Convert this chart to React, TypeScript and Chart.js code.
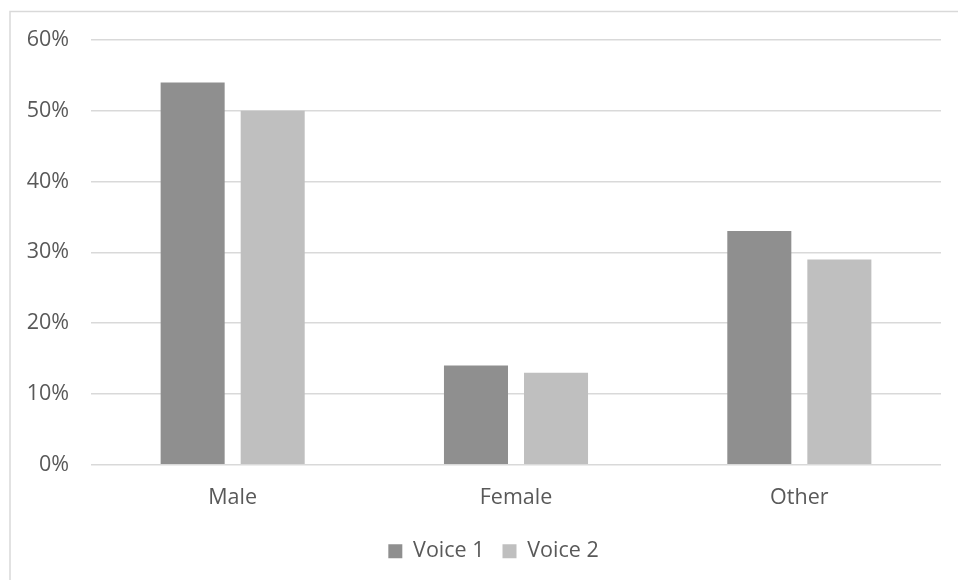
import React, { useEffect, useRef } from "react";
import { Chart, registerables } from "chart.js";

Chart.register(...registerables);

const categories = ["Male", "Female", "Other"];
const voice1 = [54, 14, 33];
const voice2 = [50, 13, 29];
const yTicks = [0, 10, 20, 30, 40, 50, 60];

const FONT = "'Open Sans', 'Liberation Sans', sans-serif";
const TEXT = "#595959";
const FS = 21.5;

const frame = {
  id: "frame",
  beforeDraw(chart: any) {
    const ctx = chart.ctx;
    ctx.save();
    ctx.strokeStyle = "#d9d9d9";
    ctx.lineWidth = 1.5;
    ctx.beginPath();
    ctx.moveTo(10, 600);
    ctx.lineTo(10, 11.5);
    ctx.lineTo(1000, 11.5);
    ctx.stroke();
    ctx.restore();
  },
  afterLayout(chart: any) {
    const l = chart.legend;
    if (l) {
      l.left += 23;
      l.right += 23;
    }
  },
};

export default function App() {
  const ref = useRef<HTMLCanvasElement>(null);
  useEffect(() => {
    document.body.style.margin = "0";
    const chart = new Chart(ref.current!, {
      type: "bar",
      data: {
        labels: categories,
        datasets: [
          { label: "Voice 1", data: voice1, backgroundColor: "#8f8f8f", barPercentage: 0.8, categoryPercentage: 0.565 },
          { label: "Voice 2", data: voice2, backgroundColor: "#bfbfbf", barPercentage: 0.8, categoryPercentage: 0.565 },
        ],
      },
      options: {
        animation: false,
        responsive: false,
        layout: { padding: { left: 0, right: 17, top: 40, bottom: 8 } },
        plugins: {
          tooltip: { enabled: false },
          legend: {
            position: "bottom",
            labels: {
              boxWidth: 14,
              boxHeight: 14,
              padding: 18,
              color: TEXT,
              font: { family: FONT, size: FS },
            },
          },
        },
        scales: {
          x: {
            grid: { display: false },
            border: { display: false },
            ticks: { color: TEXT, font: { family: FONT, size: FS }, padding: 12 },
          },
          y: {
            min: 0,
            max: 60,
            afterFit: (s: any) => { s.width = 91; },
            afterBuildTicks: (s: any) => { s.ticks = yTicks.map((v) => ({ value: v })); },
            grid: { color: "#d9d9d9", lineWidth: 1.5, drawTicks: false },
            border: { display: false },
            ticks: {
              color: TEXT,
              font: { family: FONT, size: FS },
              padding: 22,
              callback: (v: any) => v + "%",
            },
          },
        },
      },
      plugins: [frame],
    });
    return () => chart.destroy();
  }, []);
  return (
    <div style={{ position: "fixed", left: 0, top: 0, width: 958, height: 580, background: "#fff" }}>
      <canvas ref={ref} width={958} height={580} />
    </div>
  );
}
